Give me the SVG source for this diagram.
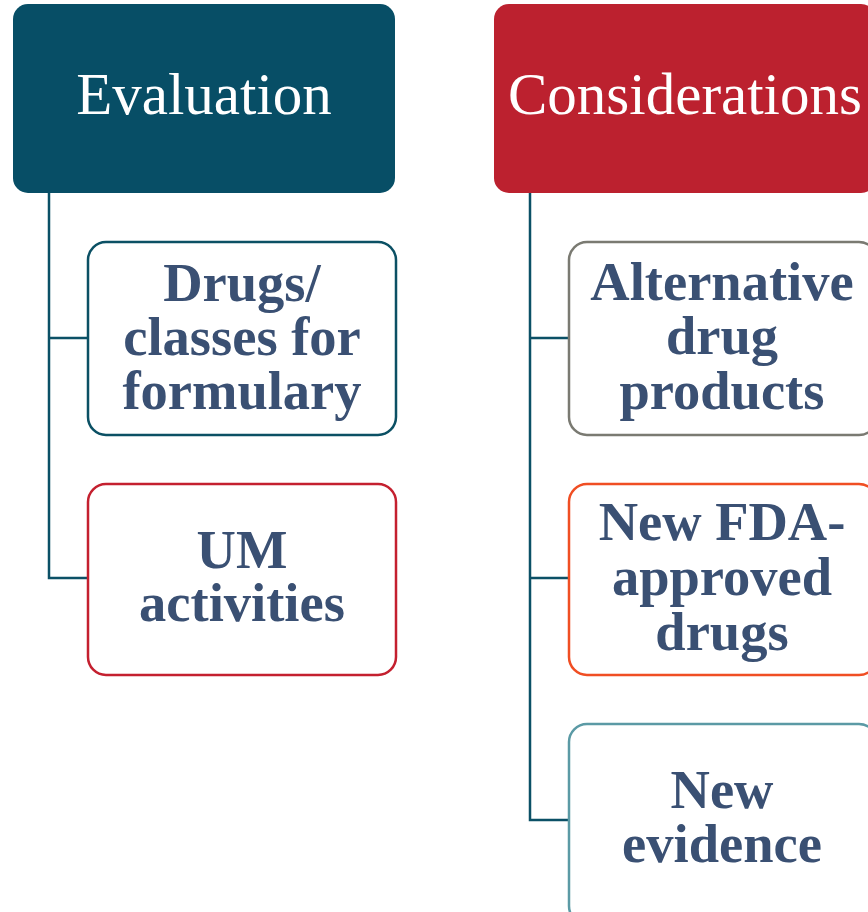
<svg xmlns="http://www.w3.org/2000/svg" width="868" height="912" viewBox="0 0 868 912">
<style>
.hdr{font-family:"Liberation Serif",serif;font-size:59px;fill:#ffffff;text-anchor:middle}
.lbl{font-family:"Liberation Serif",serif;font-size:54.5px;font-weight:bold;fill:#3A5073;text-anchor:middle}
.box{fill:#ffffff;stroke-width:2.5}
.con{fill:none;stroke:#0B5066;stroke-width:2.5}
</style>
<rect width="868" height="912" fill="#ffffff"/>
<g id="connectors">
<path class="con" d="M49,193 V578 H88 M49,338 H88"/>
<path class="con" d="M530,193 V820 H569 M530,338 H569 M530,578 H569"/>
</g>
<g id="evaluation">
<rect x="13" y="4" width="382" height="189" rx="15" fill="#074E66"/>
<text class="hdr" x="204" y="114">Evaluation</text>
</g>
<g id="considerations">
<rect x="494" y="4" width="382" height="189" rx="15" fill="#BC212F"/>
<text class="hdr" x="685" y="114">Considerations</text>
</g>
<g id="drugs-classes">
<rect class="box" x="88" y="242" width="308" height="193" rx="18" stroke="#0B5064"/>
<text class="lbl" x="242" y="301">Drugs/</text>
<text class="lbl" x="242" y="355">classes for</text>
<text class="lbl" x="242" y="409">formulary</text>
</g>
<g id="um-activities">
<rect class="box" x="88" y="484" width="308" height="191" rx="18" stroke="#C4202F"/>
<text class="lbl" x="242" y="568">UM</text>
<text class="lbl" x="242" y="621">activities</text>
</g>
<g id="alternative">
<rect class="box" x="569" y="242" width="308" height="193" rx="18" stroke="#7A7A72"/>
<text class="lbl" x="722" y="300">Alternative</text>
<text class="lbl" x="722" y="354">drug</text>
<text class="lbl" x="722" y="409">products</text>
</g>
<g id="new-fda">
<rect class="box" x="569" y="484" width="308" height="191" rx="18" stroke="#F04E23"/>
<text class="lbl" x="722" y="540">New FDA-</text>
<text class="lbl" x="722" y="595">approved</text>
<text class="lbl" x="722" y="650">drugs</text>
</g>
<g id="new-evidence">
<rect class="box" x="569" y="724" width="308" height="200" rx="18" stroke="#5B9AA5"/>
<text class="lbl" x="722" y="808">New</text>
<text class="lbl" x="722" y="862">evidence</text>
</g>
</svg>
